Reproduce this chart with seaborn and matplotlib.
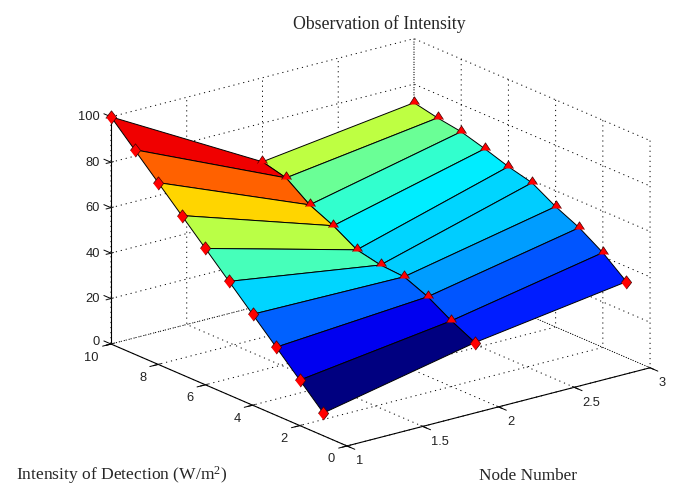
import matplotlib
matplotlib.use('Agg')
import matplotlib.pyplot as plt
from mpl_toolkits.mplot3d import proj3d
import numpy as np
import seaborn as sns

# node number, detection intensity
nodes = [1, 2, 3]
intensity = [1, 2, 3, 4, 5, 6, 7, 8, 9, 10]

# observed intensity at each node
node1 = [10, 20, 30, 40, 50, 60, 70, 80, 90, 100]
node2 = [23.8, 28.9, 35, 39.3, 40, 42.2, 48.3, 53, 60.4, 63]
node3 = [33.4, 41.7, 48.2, 53, 59, 61.6, 65, 68, 69.6, 71.8]

x_ticks = [1, 1.5, 2, 2.5, 3]
x_labels = ['1', '1.5', '2', '2.5', '3']
y_ticks = [0, 2, 4, 6, 8, 10]
y_labels = ['0', '2', '4', '6', '8', '10']
z_ticks = [0, 20, 40, 60, 80, 100]
z_labels = ['0', '20', '40', '60', '80', '100']

sns.set_style('white')
plt.rcParams['font.family'] = ['Liberation Sans', 'DejaVu Sans']
plt.rcParams['mathtext.default'] = 'regular'
plt.rcParams['axes.edgecolor'] = 'black'
plt.rcParams['axes.linewidth'] = 0.8

# same stops as the old matlab jet
jet = sns.blend_palette(['#000080', '#0000ff', '#0080ff', '#00ffff', '#80ff80',
                         '#ffff00', '#ff8000', '#ff0000', '#800000'], n_colors=256, as_cmap=True)

X, Y = np.meshgrid(nodes, intensity)
Z = np.array([node1, node2, node3]).T
colors = jet((Z - Z.min()) / (Z.max() - Z.min()))

fig = plt.figure(figsize=(6.83, 4.96), dpi=100)
ax = fig.add_axes([84 / 683, -42.8 / 496, 577.4 / 683, 577.4 / 496], projection='3d', computed_zorder=False)
ax.set_proj_type('ortho')
ax.view_init(elev=19.5, azim=232.3)
ax.set_box_aspect((383, 386, 241), zoom=1)

ax.set_xlim(1, 3)
ax.set_ylim(0, 10)
ax.set_zlim(0, 100)
ax.set_xticks(x_ticks)
ax.set_yticks(y_ticks)
ax.set_zticks(z_ticks)
ax.set_xticklabels([])
ax.set_yticklabels([])
ax.set_zticklabels([])

ax.plot_surface(X, Y, Z, facecolors=colors, rstride=1, cstride=1, shade=False,
                edgecolor='black', linewidth=0.7, antialiased=True, zorder=1)

# markers on the crease are half hidden by the surface in the original
diamond = [(-0.77, 0), (0, 1), (0.77, 0), (0, -1)]
half = [(-0.75, -0.15), (0, 1), (0.75, -0.15)]
front = (X == 1) | (Y == 1)
ax.plot(X[front], Y[front], Z[front], ls='none', marker=diamond, ms=9.6, mfc='red', mec='#400000', mew=0.5, zorder=3)
ax.plot(X[~front], Y[~front], Z[~front], ls='none', marker=half, ms=9.6, mfc='red', mec='#400000', mew=0.5, zorder=3)

for axis in [ax.xaxis, ax.yaxis, ax.zaxis]:
    axis.set_pane_color((1, 1, 1, 0))
    axis.pane.set_edgecolor('none')
    axis._axinfo['grid'].update(color='black', linewidth=0.7, linestyle=(0, (1.2, 4)))


# mplot3d ticks and tick labels cant be nudged, so put them on by hand at the tick spots
def tick_text(label, x, y, z, dx, dy, ha):
    px, py, _ = proj3d.proj_transform(x, y, z, ax.get_proj())
    ax.annotate(label, (px, py), xytext=(dx, dy), textcoords='offset pixels', ha=ha, va='center',
                fontsize=9.3, color='#222222', annotation_clip=False)


for val, lab in zip(x_ticks, x_labels):
    ax.plot([val, val], [0, -0.33], [0, 0], color='black', lw=0.7, zorder=0)
    tick_text(lab, val, 0, 0, 8.5, -15.5, 'left')
for val, lab in zip(y_ticks, y_labels):
    ax.plot([1, 0.945], [val, val], [0, 0], color='black', lw=0.7, zorder=0)
    tick_text(lab, 1, val, 0, -12, -13.5, 'right')
for val, lab in zip(z_ticks, z_labels):
    ax.plot([1, 1], [10, 10.3], [val, val], color='black', lw=0.7, zorder=0)
    tick_text(lab, 1, 10, val, -11, 2.5 if val == 0 else -0.5, 'right')

serif = ['Liberation Serif', 'DejaVu Serif']
fig.text(379.5 / 683, 1 - 24 / 496, 'Observation of Intensity', family=serif, fontsize=12.8, ha='center', va='center')
fig.text(16 / 683, 1 - 475 / 496, 'Intensity of Detection (W/m$^{2}$)', family=serif, fontsize=12.6, ha='left', va='center')
fig.text(528 / 683, 1 - 476 / 496, 'Node Number', family=serif, fontsize=12.4, ha='center', va='center')

fig.savefig('out.png', dpi=100)
